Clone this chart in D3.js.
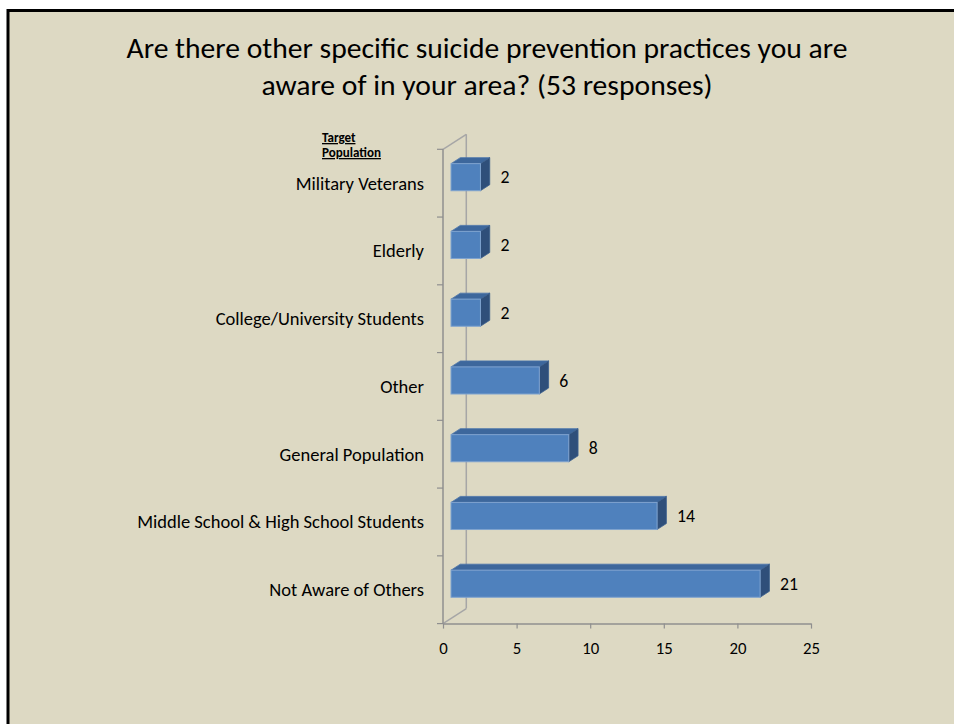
<!DOCTYPE html>
<html><head><meta charset="utf-8">
<script src="https://cdn.jsdelivr.net/npm/d3@7"></script>
<style>
html,body{margin:0;padding:0;background:#fff;}
svg{display:block;}
text{font-family:Carlito, Calibri, Lato, "Open Sans", sans-serif;fill:#000;}
</style></head>
<body>
<script>
const categories = ["Military Veterans","Elderly","College/University Students","Other","General Population","Middle School & High School Students","Not Aware of Others"];
const values = [2,2,2,6,8,14,21];
const xTicks = [0,5,10,15,20,25];
const titleLines = ["Are there other specific suicide prevention practices you are","aware of in your area? (53 responses)"];
const axisTitleLines = ["Target","Population"];

const W = 954, H = 724;
const svg = d3.select("body").append("svg").attr("width", W).attr("height", H);

svg.append("rect").attr("x",0).attr("y",0).attr("width",W).attr("height",H).attr("fill","#fff");
svg.append("rect").attr("x",8).attr("y",10.5).attr("width",W+20).attr("height",H+20)
  .attr("fill","#ddd9c3").attr("stroke","#000").attr("stroke-width",3);

function fit(sel, target){
  const w = sel.node().getComputedTextLength();
  const fs = parseFloat(sel.attr("font-size"));
  const n = +(fs*target/w).toFixed(2);
  sel.attr("font-size", n);
  return n;
}

// title
const t1 = svg.append("text").attr("x",487).attr("y",58).attr("text-anchor","middle").attr("font-size",28).text(titleLines[0]);
const tfs = fit(t1, 721);
svg.append("text").attr("x",487).attr("y",95).attr("text-anchor","middle").attr("font-size",tfs).text(titleLines[1]);

const x = d3.scaleLinear().domain([0,25]).range([443,811]);
const y = d3.scaleBand().domain(categories).range([149.3,623.6]).paddingInner(0.6).paddingOuter(0.3);
const step = y.step();

const depth = {dx:23.3, dy:-15};
const barOff = {dx:8, dy:-6};
const barDepth = {dx:9.3, dy:-6};

const axisColor = "#8f8f8f";
const g = svg.append("g");

const yTop = 149.3, yBot = 623.6, x0 = x(0);
g.append("line").attr("x1",x0+depth.dx).attr("y1",yTop+depth.dy).attr("x2",x0+depth.dx).attr("y2",yBot+depth.dy)
  .attr("stroke","#a6a6a6").attr("stroke-width",1.5);
g.append("line").attr("x1",x0).attr("y1",yTop).attr("x2",x0+depth.dx).attr("y2",yTop+depth.dy)
  .attr("stroke","#a6a6a6").attr("stroke-width",1.5);
g.append("line").attr("x1",x0).attr("y1",yBot).attr("x2",x0+depth.dx).attr("y2",yBot+depth.dy)
  .attr("stroke","#a6a6a6").attr("stroke-width",1.5);

g.append("line").attr("x1",x0).attr("y1",yTop).attr("x2",x0).attr("y2",yBot).attr("stroke",axisColor).attr("stroke-width",1.5);
const bounds = d3.range(categories.length+1).map(i => yTop + i*step);
g.selectAll(".yt").data(bounds).join("line").attr("x1",x0-6).attr("x2",x0).attr("y1",d=>d).attr("y2",d=>d)
  .attr("stroke",axisColor).attr("stroke-width",1.2);

// x axis
const xAxis = svg.append("g").attr("transform",`translate(0,${yBot})`)
  .call(d3.axisBottom(x).tickValues(xTicks).tickSize(5).tickPadding(14).tickSizeOuter(0));
xAxis.attr("font-family",null).attr("font-size",null);
xAxis.select(".domain").attr("stroke",axisColor).attr("stroke-width",1.5);
xAxis.selectAll(".tick line").attr("stroke",axisColor).attr("stroke-width",1.2);
const tickTexts = xAxis.selectAll(".tick text").attr("font-size",15).attr("fill","#000");
const tfs2 = fit(tickTexts.filter(d=>d===25), 17);
tickTexts.attr("font-size", tfs2);

// category labels
const labs = svg.append("g").selectAll("text").data(categories).join("text")
  .attr("x",424).attr("y",d=>y(d)+y.bandwidth()/2).attr("dy","0.35em").attr("text-anchor","end")
  .attr("font-size",15).text(d=>d);
const longest = labs.filter(d=>d===categories[5]);
const lfs = fit(longest, 287);
labs.attr("font-size", lfs);

// axis title (left-aligned block whose widest line ends at x=381)
const at = svg.append("g");
const atTexts = axisTitleLines.map((s,i)=> at.append("text").attr("x",322).attr("y",142+i*15).attr("font-size",13)
    .attr("font-weight","bold").attr("text-decoration","underline").text(s));
const afs = fit(atTexts[1], 59);
atTexts[0].attr("font-size", afs);

// bars
const bars = svg.append("g").selectAll("g").data(categories.map((c,i)=>({c,v:values[i]}))).join("g");
const valTexts = [];
bars.each(function(d){
  const gb = d3.select(this);
  const xl = x(0)+barOff.dx, xr = x(d.v)+barOff.dx;
  const yt = y(d.c)+barOff.dy, yb = yt+y.bandwidth();
  const dx = barDepth.dx, dy = barDepth.dy;
  gb.append("path").attr("d",`M${xl},${yt}L${xl+dx},${yt+dy}L${xr+dx},${yt+dy}L${xr},${yt}Z`)
    .attr("fill","#3d679c").attr("stroke","#4a74aa").attr("stroke-width",0.8);
  gb.append("path").attr("d",`M${xr},${yt}L${xr+dx},${yt+dy}L${xr+dx},${yb+dy}L${xr},${yb}Z`)
    .attr("fill","#2f4f7a").attr("stroke","#3b5f8e").attr("stroke-width",0.8);
  gb.append("rect").attr("x",xl).attr("y",yt).attr("width",xr-xl).attr("height",yb-yt)
    .attr("fill","#4f81bd").attr("stroke","#7fa3cf").attr("stroke-width",1);
  valTexts.push(gb.append("text").attr("x",xr+20).attr("y",(yt+yb)/2).attr("dy","0.35em").attr("font-size",15).text(d.v));
});
const vfs = fit(valTexts[6], 18);
valTexts.forEach(t=>t.attr("font-size", vfs));
</script>
</body></html>
